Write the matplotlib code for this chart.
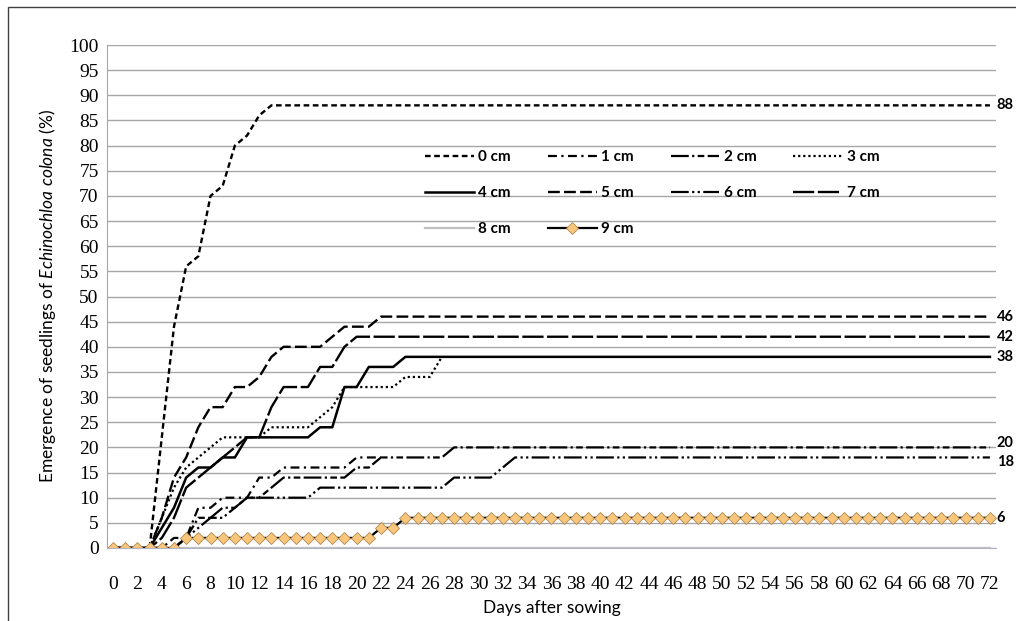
import numpy as np
import matplotlib.pyplot as plt
from matplotlib.patches import Rectangle

plt.rcParams['font.family'] = ['Lato', 'DejaVu Sans']
plt.rcParams['mathtext.fontset'] = 'custom'
plt.rcParams['mathtext.rm'] = 'Lato'
plt.rcParams['mathtext.it'] = 'Lato:italic'

# days after sowing (category axis)
days = list(range(73))

# emergence (%) per burial depth
cm0 = [0, 0, 0, 0, 22, 44, 56, 58, 70, 72,
       80, 82, 86, 88, 88, 88, 88, 88, 88, 88,
       88, 88, 88, 88, 88, 88, 88, 88, 88, 88,
       88, 88, 88, 88, 88, 88, 88, 88, 88, 88,
       88, 88, 88, 88, 88, 88, 88, 88, 88, 88,
       88, 88, 88, 88, 88, 88, 88, 88, 88, 88,
       88, 88, 88, 88, 88, 88, 88, 88, 88, 88,
       88, 88, 88]
cm1 = [0, 0, 0, 0, 0, 2, 2, 8, 8, 10,
       10, 10, 14, 14, 16, 16, 16, 16, 16, 16,
       18, 18, 18]
cm2 = [0, 0, 0, 0, 0, 0, 2, 6, 6, 8,
       8, 10, 10, 12, 14, 14, 14, 14, 14, 14,
       16, 16, 18, 18, 18, 18, 18, 18, 20, 20,
       20, 20, 20, 20, 20, 20, 20, 20, 20, 20,
       20, 20, 20, 20, 20, 20, 20, 20, 20, 20,
       20, 20, 20, 20, 20, 20, 20, 20, 20, 20,
       20, 20, 20, 20, 20, 20, 20, 20, 20, 20,
       20, 20, 20]
cm3 = [0, 0, 0, 0, 6, 12, 16, 18, 20, 22,
       22, 22, 22, 24, 24, 24, 24, 26, 28, 32,
       32, 32, 32, 32, 34, 34, 34, 38]
cm4 = [0, 0, 0, 0, 4, 8, 14, 16, 16, 18,
       18, 22, 22, 22, 22, 22, 22, 24, 24, 32,
       32, 36, 36, 36, 38, 38, 38, 38, 38, 38,
       38, 38, 38, 38, 38, 38, 38, 38, 38, 38,
       38, 38, 38, 38, 38, 38, 38, 38, 38, 38,
       38, 38, 38, 38, 38, 38, 38, 38, 38, 38,
       38, 38, 38, 38, 38, 38, 38, 38, 38, 38,
       38, 38, 38]
cm5 = [0, 0, 0, 0, 6, 14, 18, 24, 28, 28,
       32, 32, 34, 38, 40, 40, 40, 40, 42, 44,
       44, 44, 46, 46, 46, 46, 46, 46, 46, 46,
       46, 46, 46, 46, 46, 46, 46, 46, 46, 46,
       46, 46, 46, 46, 46, 46, 46, 46, 46, 46,
       46, 46, 46, 46, 46, 46, 46, 46, 46, 46,
       46, 46, 46, 46, 46, 46, 46, 46, 46, 46,
       46, 46, 46]
cm6 = [0, 0, 0, 0, 0, 0, 2, 4, 6, 6,
       8, 10, 10, 10, 10, 10, 10, 12, 12, 12,
       12, 12, 12, 12, 12, 12, 12, 12, 14, 14,
       14, 14, 16, 18, 18, 18, 18, 18, 18, 18,
       18, 18, 18, 18, 18, 18, 18, 18, 18, 18,
       18, 18, 18, 18, 18, 18, 18, 18, 18, 18,
       18, 18, 18, 18, 18, 18, 18, 18, 18, 18,
       18, 18, 18]
cm7 = [0, 0, 0, 0, 2, 6, 12, 14, 16, 18,
       20, 22, 22, 28, 32, 32, 32, 36, 36, 40,
       42, 42, 42, 42, 42, 42, 42, 42, 42, 42,
       42, 42, 42, 42, 42, 42, 42, 42, 42, 42,
       42, 42, 42, 42, 42, 42, 42, 42, 42, 42,
       42, 42, 42, 42, 42, 42, 42, 42, 42, 42,
       42, 42, 42, 42, 42, 42, 42, 42, 42, 42,
       42, 42, 42]
cm8 = [0, 0, 0, 0, 0, 0, 0, 0, 0, 0,
       0, 0, 0, 0, 0, 0, 0, 0, 0, 0,
       0, 0, 0, 0, 0, 0, 0, 0, 0, 0,
       0, 0, 0, 0, 0, 0, 0, 0, 0, 0,
       0, 0, 0, 0, 0, 0, 0, 0, 0, 0,
       0, 0, 0, 0, 0, 0, 0, 0, 0, 0,
       0, 0, 0, 0, 0, 0, 0, 0, 0, 0,
       0, 0, 0]
cm9 = [0, 0, 0, 0, 0, 0, 2, 2, 2, 2,
       2, 2, 2, 2, 2, 2, 2, 2, 2, 2,
       2, 2, 4, 4, 6, 6, 6, 6, 6, 6,
       6, 6, 6, 6, 6, 6, 6, 6, 6, 6,
       6, 6, 6, 6, 6, 6, 6, 6, 6, 6,
       6, 6, 6, 6, 6, 6, 6, 6, 6, 6,
       6, 6, 6, 6, 6, 6, 6, 6, 6, 6,
       6, 6, 6]

depths = ['0 cm', '1 cm', '2 cm', '3 cm', '4 cm', '5 cm', '6 cm', '7 cm', '8 cm', '9 cm']
series = [cm0, cm1, cm2, cm3, cm4, cm5, cm6, cm7, cm8, cm9]

# line styles (dash patterns in units of line width)
styles = [
    dict(ls=(0, (2.4, 1.5)), lw=1.7, color='black'),
    dict(ls=(0, (4, 2, 1, 2)), lw=1.6, color='black'),
    dict(ls=(0, (8, 1.5, 1, 1.5, 3, 1.5)), lw=1.6, color='black'),
    dict(ls=(0, (1, 1.3)), lw=1.6, color='black'),
    dict(ls='-', lw=1.8, color='black'),
    dict(ls=(0, (5, 1.8)), lw=1.7, color='black'),
    dict(ls=(0, (8, 1.5, 1, 1.5, 1, 1.5)), lw=1.6, color='black'),
    dict(ls=(0, (9, 1.5)), lw=1.7, color='black'),
    dict(ls='-', lw=1.6, color='#bfbfbf'),
    dict(ls='-', lw=1.6, color='black', marker='D', markersize=6.3,
         markerfacecolor='#f9c67c', markeredgecolor='#b08850', markeredgewidth=0.6),
]

fig = plt.figure(figsize=(10.16, 6.21), dpi=100)
ax = fig.add_axes([107 / 1016, 1 - 548 / 621, (996 - 107) / 1016, (548 - 45) / 621])

lines = []
for vals, name, st in zip(series, depths, styles):
    lines += ax.plot(days[:len(vals)], vals, label=name, **st)

# end-of-line value labels
label_shift = {20: 3, 18: -3}
for vals in series:
    if len(vals) == len(days) and vals[-1] > 0:
        ax.annotate(str(vals[-1]), (days[-1], vals[-1]), xytext=(5, label_shift.get(vals[-1], 0)),
                    textcoords='offset points', va='center', ha='left',
                    fontsize=10.5, fontweight='bold', annotation_clip=False)

ax.set_xlim(-0.5, 72.5)
ax.set_ylim(0, 100)
ax.set_xticks(days[::2])
ax.set_yticks(range(0, 101, 5))
ax.tick_params(length=0)
ax.tick_params(axis='x', pad=20)
ax.tick_params(axis='y', pad=6)
for lab in ax.get_xticklabels() + ax.get_yticklabels():
    lab.set_fontfamily('Liberation Serif')
    lab.set_fontsize(14)
ax.grid(axis='y', color='#a6a6a6', lw=1)
ax.set_axisbelow(True)
for side in ['top', 'right']:
    ax.spines[side].set_visible(False)
ax.spines['left'].set_color('#a6a6a6')
ax.spines['bottom'].set_color('#b4b4c8')

ax.set_xlabel('Days after sowing', fontsize=12.5, labelpad=5)
ax.set_ylabel(r'Emergence of seedlings of $\it{Echinochloa\ colona}$ (%)', fontsize=12.5, labelpad=8)

# legend filled row by row, as in the original
order = [0, 4, 8, 1, 5, 9, 2, 6, 3, 7]
ax.legend([lines[i] for i in order], [depths[i] for i in order],
          ncol=4, loc='upper left', bbox_to_anchor=(425 / 1016, 1 - 150 / 621),
          bbox_transform=fig.transFigure, frameon=False,
          handlelength=3.2, handletextpad=0.3, columnspacing=2.4, labelspacing=1.45,
          borderpad=0, borderaxespad=0, prop={'weight': 'bold', 'size': 11})

fig.patches.append(Rectangle((8 / 1016, -0.05), 1.2, 1 - 7 / 621 + 0.05, transform=fig.transFigure,
                             fill=False, edgecolor='#404040', lw=1))

fig.savefig('out.png', dpi=100)
